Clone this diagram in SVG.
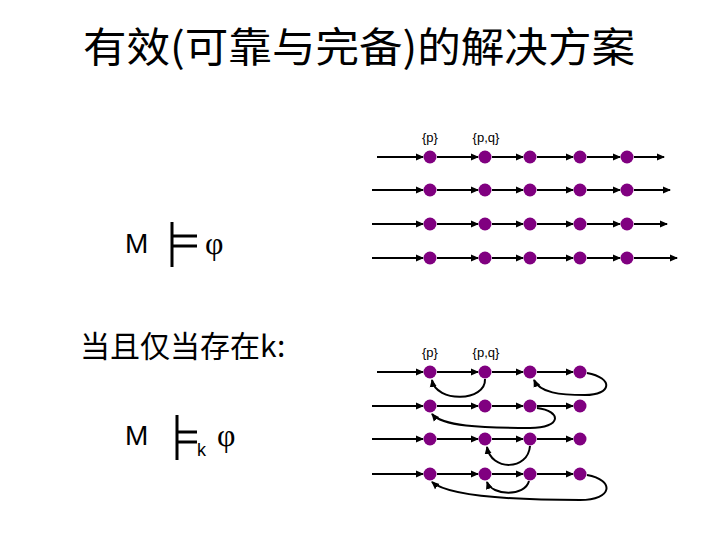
<svg xmlns="http://www.w3.org/2000/svg" width="720" height="540" viewBox="0 0 720 540">
<defs>
<marker id="ah" markerWidth="8" markerHeight="8" refX="7" refY="4" orient="auto" markerUnits="userSpaceOnUse">
<path d="M0,0.5 L8,4 L0,7.5 Z" fill="#000"/>
</marker>
<style>
.e{stroke:#000;stroke-width:2;fill:none;marker-end:url(#ah)}
.d{fill:#800080}
.t{font-family:"Noto Sans CJK SC","Liberation Sans",sans-serif;fill:#000}
.s{font-family:"Liberation Sans",sans-serif;fill:#000}
.lb{font-family:"Liberation Sans",sans-serif;font-size:13px;fill:#000;text-anchor:middle}
.ts{stroke:#000;stroke-width:3;fill:none}
.ph{font-family:"Liberation Serif",serif;font-size:32px;fill:#000}
</style>
</defs>
<rect width="720" height="540" fill="#fff"/>
<text class="t" x="83" y="62" font-size="41" textLength="552" lengthAdjust="spacingAndGlyphs">有效(可靠与完备)的解决方案</text>

<g id="formula1">
<text class="s" x="125" y="253" font-size="28">M</text>
<path class="ts" d="M172 222 V267 M172 236 H197 M172 246 H197"/>
<text class="ph" x="205" y="254">φ</text>
</g>
<g id="condition">
<text class="t" x="80" y="357" font-size="30">当且仅当存在k:</text>
</g>
<g id="formula2">
<text class="s" x="125" y="445" font-size="28">M</text>
<path class="ts" d="M177 415 V460 M177 432 H197 M177 442 H197"/>
<text class="s" x="197" y="456" font-size="18">k</text>
<text class="ph" x="217" y="446">φ</text>
</g>

<g id="labels">
<text class="lb" x="430" y="142">{p}</text>
<text class="lb" x="486" y="142">{p,q}</text>
<text class="lb" x="430" y="357">{p}</text>
<text class="lb" x="486" y="357">{p,q}</text>
</g>

<g id="connectors">
<path class="e" d="M377 157 H423"/><path class="e" d="M437 157 H478"/><path class="e" d="M492 157 H523"/><path class="e" d="M537 157 H573"/><path class="e" d="M587 157 H620"/><path class="e" d="M634 157 H664"/>
<path class="e" d="M372 190 H423"/><path class="e" d="M437 190 H478"/><path class="e" d="M492 190 H523"/><path class="e" d="M537 190 H573"/><path class="e" d="M587 190 H620"/><path class="e" d="M634 190 H670"/>
<path class="e" d="M372 224 H423"/><path class="e" d="M437 224 H478"/><path class="e" d="M492 224 H523"/><path class="e" d="M537 224 H573"/><path class="e" d="M587 224 H620"/><path class="e" d="M634 224 H667"/>
<path class="e" d="M372 258 H423"/><path class="e" d="M437 258 H478"/><path class="e" d="M492 258 H523"/><path class="e" d="M537 258 H573"/><path class="e" d="M587 258 H620"/><path class="e" d="M634 258 H677"/>
<path class="e" d="M377 372 H423"/><path class="e" d="M437 372 H478"/><path class="e" d="M492 372 H523"/><path class="e" d="M537 372 H573"/>
<path class="e" d="M485 379 C486 402, 436 403, 432 380"/>
<path class="e" d="M587 373 C614 378, 612 395, 585 395 C560 395, 540 393, 534 380"/>
<path class="e" d="M372 406 H423"/><path class="e" d="M437 406 H478"/><path class="e" d="M492 406 H523"/><path class="e" d="M537 406 H573"/>
<path class="e" d="M537 408 C562 411, 562 428, 530 428 C480 428, 442 426, 432 414"/>
<path class="e" d="M372 439 H423"/><path class="e" d="M437 439 H478"/><path class="e" d="M492 439 H523"/><path class="e" d="M537 439 H573"/>
<path class="e" d="M530 446 C528 471, 491 471, 487 447"/>
<path class="e" d="M372 474 H423"/><path class="e" d="M437 474 H478"/><path class="e" d="M492 474 H523"/><path class="e" d="M537 474 H573"/>
<path class="e" d="M529 481 C525 497, 492 496, 487 482"/>
<path class="e" d="M587 475 C615 480, 613 500, 580 500 C510 500, 448 496, 432 482"/>
</g>

<g id="nodes">
<circle class="d" cx="430" cy="157" r="6.5"/><circle class="d" cx="485" cy="157" r="6.5"/><circle class="d" cx="530" cy="157" r="6.5"/><circle class="d" cx="580" cy="157" r="6.5"/><circle class="d" cx="627" cy="157" r="6.5"/>
<circle class="d" cx="430" cy="190" r="6.5"/><circle class="d" cx="485" cy="190" r="6.5"/><circle class="d" cx="530" cy="190" r="6.5"/><circle class="d" cx="580" cy="190" r="6.5"/><circle class="d" cx="627" cy="190" r="6.5"/>
<circle class="d" cx="430" cy="224" r="6.5"/><circle class="d" cx="485" cy="224" r="6.5"/><circle class="d" cx="530" cy="224" r="6.5"/><circle class="d" cx="580" cy="224" r="6.5"/><circle class="d" cx="627" cy="224" r="6.5"/>
<circle class="d" cx="430" cy="258" r="6.5"/><circle class="d" cx="485" cy="258" r="6.5"/><circle class="d" cx="530" cy="258" r="6.5"/><circle class="d" cx="580" cy="258" r="6.5"/><circle class="d" cx="627" cy="258" r="6.5"/>
<circle class="d" cx="430" cy="372" r="6.5"/><circle class="d" cx="485" cy="372" r="6.5"/><circle class="d" cx="530" cy="372" r="6.5"/><circle class="d" cx="580" cy="372" r="6.5"/>
<circle class="d" cx="430" cy="406" r="6.5"/><circle class="d" cx="485" cy="406" r="6.5"/><circle class="d" cx="530" cy="406" r="6.5"/><circle class="d" cx="580" cy="406" r="6.5"/>
<circle class="d" cx="430" cy="439" r="6.5"/><circle class="d" cx="485" cy="439" r="6.5"/><circle class="d" cx="530" cy="439" r="6.5"/><circle class="d" cx="580" cy="439" r="6.5"/>
<circle class="d" cx="430" cy="474" r="6.5"/><circle class="d" cx="485" cy="474" r="6.5"/><circle class="d" cx="530" cy="474" r="6.5"/><circle class="d" cx="580" cy="474" r="6.5"/>
</g>
</svg>
